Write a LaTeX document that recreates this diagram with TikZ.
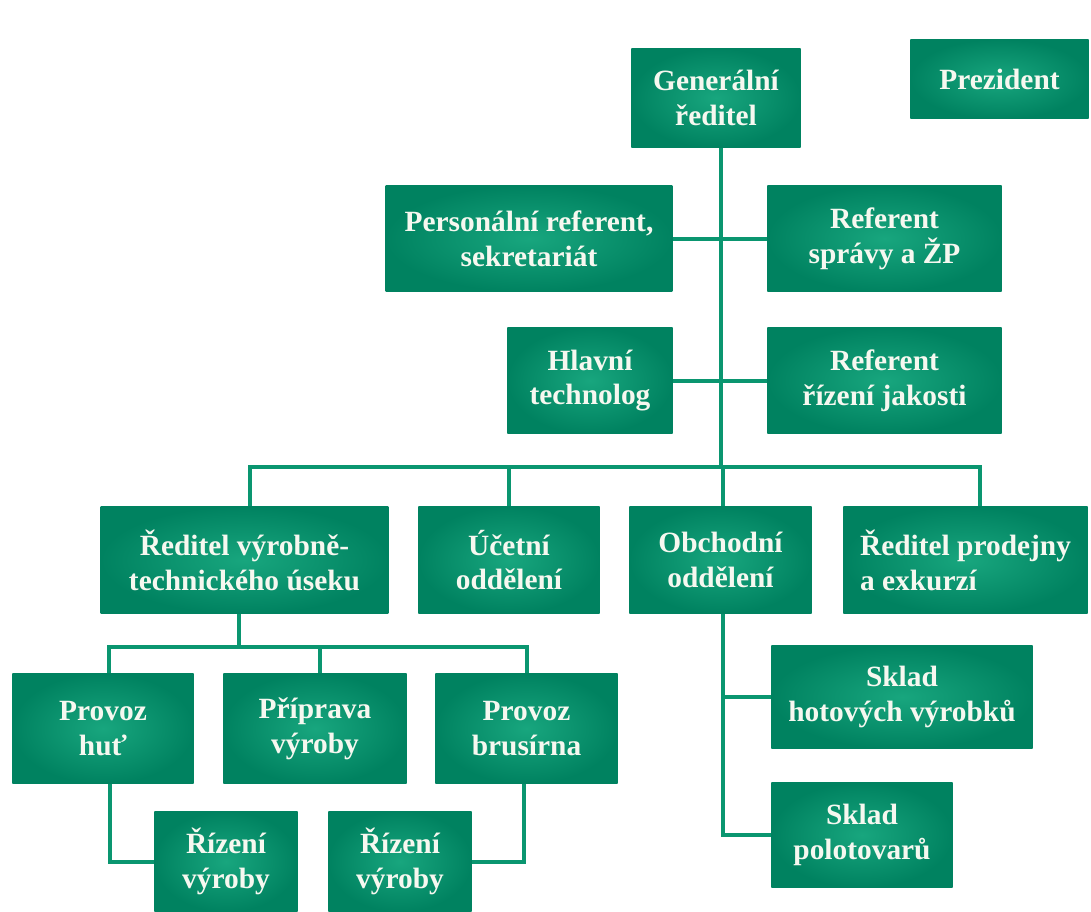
\documentclass[tikz,border=0pt]{standalone}
\usepackage{fontspec}
\setmainfont{Liberation Serif}
\usepackage{tikz}
\usetikzlibrary{positioning,calc}

\definecolor{boxlight}{RGB}{24,166,126}
\definecolor{boxdark}{RGB}{0,130,96}
\definecolor{linegreen}{RGB}{10,150,112}
\definecolor{boxtext}{RGB}{246,248,240}

\tikzset{
  orgbox/.style={rectangle, inner sep=0pt, inner color=boxlight, outer color=boxdark,
    text=boxtext, font=\bfseries\fontsize{29.5}{35}\selectfont, align=center},
  link/.style={draw=linegreen, line width=4bp}
}

\begin{document}
\begin{tikzpicture}[x=1bp,y=-1bp]
\useasboundingbox (0,0) rectangle (1091,912);

% top
\node[orgbox, minimum width=170, minimum height=100] (gen) at (716,98) {Generální\\ředitel};
\node[orgbox, minimum width=179, minimum height=80] (prez) at (999.5,79) {Prezident};

% staff
\node[orgbox, minimum width=288, minimum height=107] (pers) at (529,238.5) {Personální referent,\\sekretariát};
\node[orgbox, minimum width=235, minimum height=107] (sprav) at (884.5,238.5) {Referent\\správy a ŽP};
\node[orgbox, minimum width=166, minimum height=107] (hlav) at (590,380.5) {Hlavní\\technolog};
\node[orgbox, minimum width=235, minimum height=107] (jak) at (884.5,380.5) {Referent\\řízení jakosti};

% departments
\node[orgbox, minimum width=289, minimum height=108] (vyr) at (244.5,560) {Ředitel výrobně-\\technického úseku};
\node[orgbox, minimum width=182, minimum height=108] (ucet) at (509,560) {Účetní\\oddělení};
\node[orgbox, minimum width=183, minimum height=108] (obch) at (720.5,560) {Obchodní\\oddělení};
\node[orgbox, minimum width=245, minimum height=108, align=left] (prod) at (965.5,560) {Ředitel prodejny\\a exkurzí};

% production
\node[orgbox, minimum width=182, minimum height=111] (hut) at (103,728.5) {Provoz\\huť};
\node[orgbox, minimum width=184, minimum height=111] (prip) at (315,728.5) {Příprava\\výroby};
\node[orgbox, minimum width=183, minimum height=111] (brus) at (526.5,728.5) {Provoz\\brusírna};
\node[orgbox, minimum width=144, minimum height=101] (riz1) at (226,861.5) {Řízení\\výroby};
\node[orgbox, minimum width=144, minimum height=101] (riz2) at (400,861.5) {Řízení\\výroby};

% stores
\node[orgbox, minimum width=262, minimum height=104] (hot) at (902,697) {Sklad\\hotových výrobků};
\node[orgbox, minimum width=182, minimum height=106] (polo) at (862,835) {Sklad\\polotovarů};

\coordinate (bus) at (0,467);
\coordinate (bus2) at (0,647);

% connectors
\draw[link] ([xshift=5]gen.south) -- ([xshift=5]gen.south |- bus);
\draw[link] (pers.east) -- (sprav.west);
\draw[link] (hlav.east) -- (jak.west);
\draw[link] ([xshift=6]vyr.north) -- ([xshift=6]vyr.north |- bus)
  -- ([xshift=15]prod.north |- bus) -- ([xshift=15]prod.north);
\draw[link] (ucet.north) -- (ucet.north |- bus);
\draw[link] ([xshift=2]obch.north) -- ([xshift=2]obch.north |- bus);
\draw[link] ([xshift=-6]vyr.south) -- ([xshift=-6]vyr.south |- bus2);
\draw[link] ([xshift=6]hut.north) -- ([xshift=6]hut.north |- bus2)
  -- (brus.north |- bus2) -- (brus.north);
\draw[link] ([xshift=5]prip.north) -- ([xshift=5]prip.north |- bus2);
\draw[link] ([xshift=7]hut.south) |- (riz1.west);
\draw[link] ([xshift=-3]brus.south) |- (riz2.east);
\draw[link] ([xshift=2]obch.south) |- (hot.west);
\draw[link] ([xshift=2]obch.south) |- (polo.west);

\end{tikzpicture}
\end{document}
